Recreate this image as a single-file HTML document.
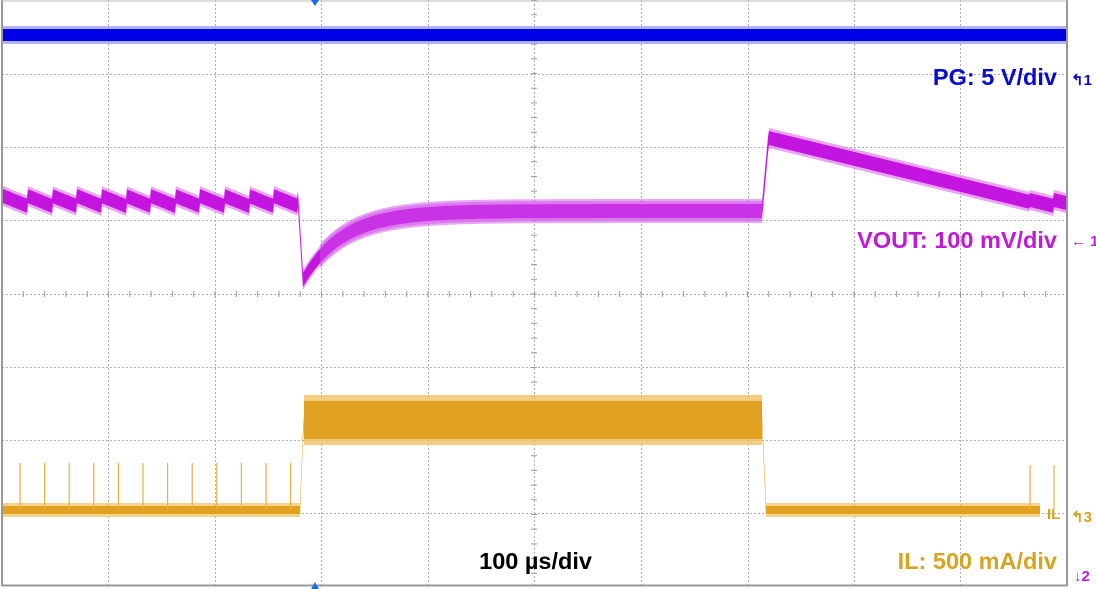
<!DOCTYPE html>
<html><head><meta charset="utf-8"><style>
html,body{margin:0;padding:0;background:#fff;}
svg{display:block;}
text{font-family:"Liberation Sans",sans-serif;font-weight:bold;}
</style></head><body>
<svg id="s" width="1096" height="589" viewBox="0 0 1096 589" xmlns="http://www.w3.org/2000/svg">
<rect x="0" y="0" width="1096" height="589" fill="#fff"/>
<g id="grid" stroke="#b0b0b0" stroke-width="1" stroke-dasharray="2,2"></g>
<line x1="2" y1="0" x2="2" y2="586" stroke="#999" stroke-width="2"/>
<line x1="1067" y1="0" x2="1067" y2="586" stroke="#999" stroke-width="2"/>
<line x1="2" y1="585.5" x2="1067" y2="585.5" stroke="#999" stroke-width="2"/>
<line x1="2" y1="1" x2="1067" y2="1" stroke="#bbb" stroke-width="1"/>
<g id="tr"></g>
<path d="M311 0 L319 0 L315 6 Z" fill="#1a6ee0"/>
<path d="M311 589 L319 589 L315 582 Z" fill="#1a6ee0"/>
<text x="1057" y="85" font-size="23.5" fill="#0a0acc" text-anchor="end">PG: 5 V/div</text>
<text x="1057" y="248" font-size="23.5" fill="#c01ad8" text-anchor="end">VOUT: 100 mV/div</text>
<text x="592" y="569" font-size="23.5" fill="#000" text-anchor="end">100 µs/div</text>
<text x="1057" y="569" font-size="23.5" fill="#d4a520" text-anchor="end">IL: 500 mA/div</text>
<text x="1047" y="519" font-size="15" fill="#d4a520" font-weight="normal" font-family="Liberation Serif,serif">IL</text>
<text x="1071" y="85" font-size="15" fill="#0a0acc" font-weight="normal">↰1</text>
<text x="1071" y="246" font-size="15" fill="#c01ad8" font-weight="normal">← 1</text>
<text x="1071" y="522" font-size="15" fill="#d4a520" font-weight="normal">↰3</text>
<text x="1074" y="581" font-size="15" fill="#c01ad8" font-weight="normal">↓2</text>
</svg>
<script>
const NS="http://www.w3.org/2000/svg";
const g=document.getElementById('grid'),tr=document.getElementById('tr');
function el(p,t,a){const e=document.createElementNS(NS,t);for(const k in a)e.setAttribute(k,a[k]);p.appendChild(e);return e;}
const xs=[108,215,321,428,534,641,748,854,960];
xs.forEach(x=>el(g,'line',{x1:x+.5,y1:0,x2:x+.5,y2:585}));
[74,147,220,294,367,440,513].forEach(y=>el(g,'line',{x1:2,y1:y+.5,x2:1067,y2:y+.5}));
for(let x=2;x<1067;x+=21.3){el(tr,'line',{x1:x,y1:291,x2:x,y2:297,stroke:'#999','stroke-width':1});}
for(let y=0;y<585;y+=14.7){el(tr,'line',{x1:531,y1:y,x2:537,y2:y,stroke:'#999','stroke-width':1});}
function band(f,x0,x1,h,col,op){let top=[],bot=[];for(let x=x0;x<=x1;x+=1){const y=f(x);top.push(x+','+(y-h).toFixed(1));bot.unshift(x+','+(y+h).toFixed(1));}
el(tr,'polygon',{points:top.concat(bot).join(' '),fill:col,opacity:op});}
band(x=>35,3,1066,9,'#9090ff',0.7);band(x=>35,3,1066,6,'#0000e6',1);
function vout(x){
 if(x<298){const p=24.6;const t=((x-3)%p)/p;return 196+t*10;}
 if(x<303)return 200+(x-298)*16;
 if(x<762)return 211+69*Math.exp(-(x-303)/40);
 if(x<769)return 211-(x-762)*11;
 if(x<1030)return 138+(x-769)*0.245;
 return 200+((x-1030)%24)/24*6;}
band(vout,3,1066,10,'#e080f0',0.7);band(vout,3,1066,7,'#c414e0',1);
band(vout,320,762,12,'#d050ea',0.5);
function il(x){if(x<300)return 510;if(x<304)return 510-(x-300)*25;if(x<762)return 420;if(x<766)return 420+(x-762)*22;return 510;}
band(il,3,1040,7,'#f0c060',0.7);band(il,3,1040,4,'#e0a020',1);
band(x=>420,304,762,25,'#f0c060',0.8);band(x=>420,304,762,19,'#e0a020',1);
for(let i=0;i<12;i++){const x=20+i*24.6;el(tr,'line',{x1:x,y1:463,x2:x,y2:509,stroke:'#e8b040','stroke-width':1.2});}
[1030,1054].forEach(x=>el(tr,'line',{x1:x,y1:465,x2:x,y2:509,stroke:'#e8b040','stroke-width':1.2}));
</script>
</body></html>
